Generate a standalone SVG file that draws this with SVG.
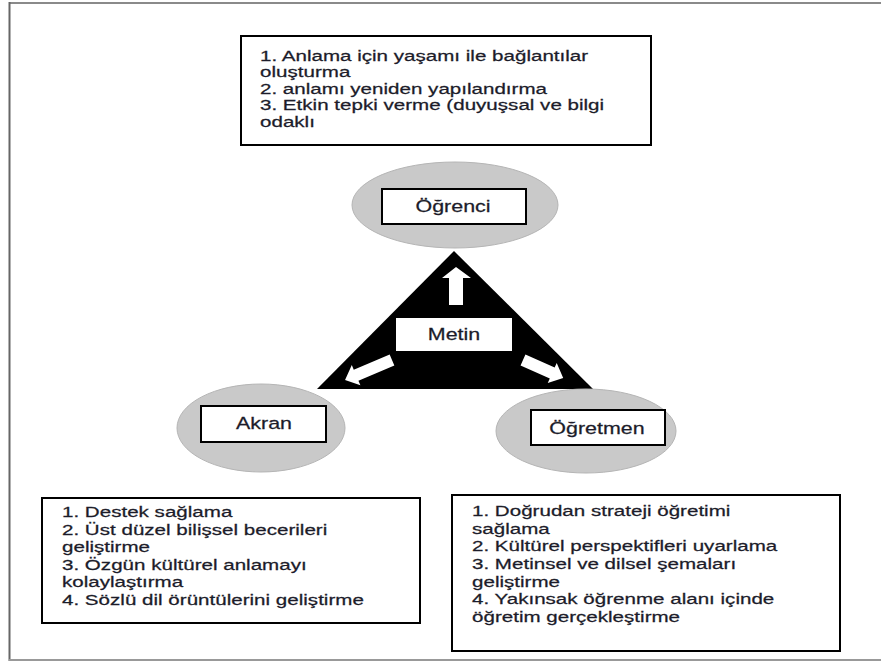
<svg xmlns="http://www.w3.org/2000/svg" width="881" height="664" viewBox="0 0 881 664">
<style>
.t{font-family:"Liberation Sans",Arial,sans-serif;font-size:14.7px;fill:#1c1c2a;stroke:#1c1c2a;stroke-width:0.25}
.lbl{font-family:"Liberation Sans",Arial,sans-serif;font-size:16.5px;fill:#1c1c2a;stroke:#1c1c2a;stroke-width:0.25;text-anchor:middle}
.box{fill:#fff;stroke:#000;stroke-width:2}
.ell{fill:#c9c9c9;stroke:#b5b5b5;stroke-width:1}
.arr{fill:#fff}
</style>
<rect width="881" height="664" fill="#fff"/>
<g id="frame">
<line x1="9" y1="3" x2="881" y2="3" stroke="#8a8a8a" stroke-width="2"/>
<line x1="9.5" y1="2" x2="9.5" y2="661" stroke="#666" stroke-width="2"/>
<line x1="9" y1="660" x2="881" y2="660" stroke="#999" stroke-width="2"/>
</g>
<g id="ogrenci-notes">
<rect class="box" x="241" y="36" width="410" height="109"/>
<g transform="translate(260,0) scale(1.4,1)">
<text class="t" x="0" y="61">1. Anlama için yaşamı ile bağlantılar</text>
<text class="t" x="0" y="77.5">oluşturma</text>
<text class="t" x="0" y="94">2. anlamı yeniden yapılandırma</text>
<text class="t" x="0" y="110.5">3. Etkin tepki verme (duyuşsal ve bilgi</text>
<text class="t" x="0" y="127">odaklı</text>
</g>
</g>
<g id="metin">
<polygon points="454,251 317,389 593,389" fill="#000"/>
<rect x="396" y="318" width="116" height="33" fill="#fff"/>
<g transform="translate(454,0) scale(1.3,1)"><text class="lbl" x="0" y="340">Metin</text></g>
</g>
<g id="connectors">
<path class="arr" d="M449,305 L449,278 L442,278 L456,267 L471,278 L463,278 L463,305 Z"/>
<path class="arr" d="M0,-6 L39,-6 L39,-11 L51,0 L39,11 L39,6 L0,6 Z" transform="translate(392,360) rotate(157)"/>
<path class="arr" d="M0,-6 L32,-6 L32,-11 L44,0 L32,11 L32,6 L0,6 Z" transform="translate(523,360) rotate(24)"/>
</g>
<g id="ogrenci">
<ellipse class="ell" cx="455" cy="205" rx="103" ry="43"/>
<rect class="box" x="382" y="189" width="144" height="35"/>
<g transform="translate(453,0) scale(1.3,1)"><text class="lbl" x="0" y="212">Öğrenci</text></g>
</g>
<g id="akran">
<ellipse class="ell" cx="261" cy="428" rx="84" ry="44"/>
<rect class="box" x="201" y="406" width="125" height="36"/>
<g transform="translate(264,0) scale(1.3,1)"><text class="lbl" x="0" y="429">Akran</text></g>
</g>
<g id="ogretmen">
<ellipse class="ell" cx="586" cy="431" rx="90" ry="42"/>
<rect class="box" x="531" y="410" width="134" height="35"/>
<g transform="translate(597,0) scale(1.3,1)"><text class="lbl" x="0" y="434">Öğretmen</text></g>
</g>
<g id="akran-notes">
<rect class="box" x="42" y="498" width="378" height="125"/>
<g transform="translate(62,0) scale(1.4,1)">
<text class="t" x="0" y="517">1. Destek sağlama</text>
<text class="t" x="0" y="534.6">2. Üst düzel bilişsel becerileri</text>
<text class="t" x="0" y="552.2">geliştirme</text>
<text class="t" x="0" y="569.8">3. Özgün kültürel anlamayı</text>
<text class="t" x="0" y="587.4">kolaylaştırma</text>
<text class="t" x="0" y="605">4. Sözlü dil örüntülerini geliştirme</text>
</g>
</g>
<g id="ogretmen-notes">
<rect class="box" x="452" y="495" width="388" height="156"/>
<g transform="translate(472,0) scale(1.4,1)">
<text class="t" x="0" y="516">1. Doğrudan strateji öğretimi</text>
<text class="t" x="0" y="533.7">sağlama</text>
<text class="t" x="0" y="551.3">2. Kültürel perspektifleri uyarlama</text>
<text class="t" x="0" y="569">3. Metinsel ve dilsel şemaları</text>
<text class="t" x="0" y="586.7">geliştirme</text>
<text class="t" x="0" y="604.3">4. Yakınsak öğrenme alanı içinde</text>
<text class="t" x="0" y="622">öğretim gerçekleştirme</text>
</g>
</g>
</svg>
